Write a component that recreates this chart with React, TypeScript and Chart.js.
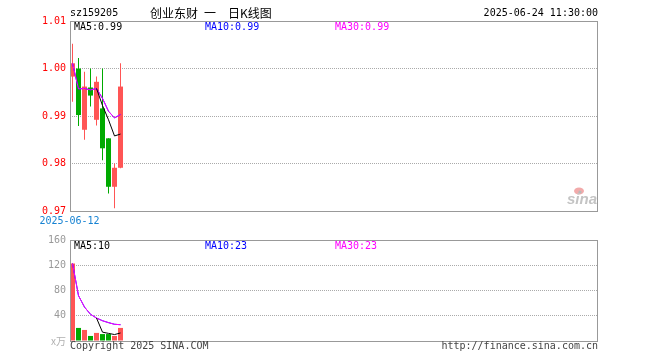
import React, { useEffect, useRef } from 'react';
import { Chart, registerables } from 'chart.js';

Chart.register(...registerables);

// ---------- data ----------
const SYMBOL = 'sz159205';
const TITLE = '创业东财 一 日K线图';
const TIMESTAMP = '2025-06-24 11:30:00';
const DATES = ['2025-06-12'];

const OPEN = [0.9983, 1.0000, 0.9871, 0.9960, 0.9892, 0.9916, 0.9853, 0.9751, 0.9791];
const HIGH = [1.0052, 1.0022, 0.9993, 1.0000, 0.9983, 1.0000, 0.9853, 0.9800, 1.0011];
const LOW = [0.9930, 0.9879, 0.9850, 0.9920, 0.9880, 0.9807, 0.9737, 0.9706, 0.9790];
const CLOSE = [1.0011, 0.9902, 0.9962, 0.9943, 0.9972, 0.9832, 0.9751, 0.9791, 0.9962];

const MA5_PRICE = [null, null, null, null, 0.9958, 0.9922, 0.9892, 0.9858, 0.9862];
const MA10_PRICE = [1.0011, 0.9957, 0.9958, 0.9955, 0.9958, 0.9937, 0.9910, 0.9896, 0.9903];
const MA30_PRICE = [1.0011, 0.9957, 0.9958, 0.9955, 0.9958, 0.9937, 0.9910, 0.9896, 0.9903];

const VOLUME = [122.8, 20.7, 17.5, 8.0, 12.8, 11.0, 11.0, 8.0, 20.7];
const MA5_VOL = [null, null, null, null, 36.4, 14.0, 12.1, 10.2, 12.7];
const MA10_VOL = [122.8, 71.8, 53.7, 42.3, 36.4, 32.1, 29.1, 26.5, 25.8];
const MA30_VOL = [122.8, 71.8, 53.7, 42.3, 36.4, 32.1, 29.1, 26.5, 25.8];

const PRICE_TICKS = [0.97, 0.98, 0.99, 1.0, 1.01];
const VOL_TICKS = [0, 40, 80, 120, 160];
const PRICE_LEGEND = ['MA5:0.99', 'MA10:0.99', 'MA30:0.99'];
const VOL_LEGEND = ['MA5:10', 'MA10:23', 'MA30:23'];
const VOL_UNIT = 'x万';
const FOOTER_LEFT = 'Copyright 2025 SINA.COM';
const FOOTER_RIGHT = 'http://finance.sina.com.cn';
const WATERMARK = 'sina';

// ---------- styles ----------
const UP = '#ff5555';
const DOWN = '#00aa00';
const MA_COLORS = ['#000000', '#0000ff', '#ff00ff'];
const BORDER = '#999999';
const GRID = '#aaaaaa';
const MONO = "10px 'DejaVu Sans Mono'";
const X_MIN = -2.5 / 6;
const X_MAX = X_MIN + 88;

const idx = CLOSE.map((_, i) => i);
const candleColor = idx.map((i) => (CLOSE[i] >= OPEN[i] ? UP : DOWN));

const xScale = { type: 'linear', display: false, min: X_MIN, max: X_MAX, offset: false };

function yScale(ticks: number[], color: string, fmt: (v: number) => string) {
  const lo = ticks[0];
  const hi = ticks[ticks.length - 1];
  return {
    position: 'left',
    min: lo,
    max: hi,
    beginAtZero: false,
    afterFit: (s: any) => {
      s.width = 70;
    },
    afterBuildTicks: (s: any) => {
      s.ticks = ticks.map((v) => ({ value: v }));
    },
    ticks: {
      color,
      font: { family: 'DejaVu Sans Mono', size: 10 },
      padding: 4,
      callback: (v: any) => fmt(Number(v)),
    },
    grid: {
      drawTicks: false,
      lineWidth: 1,
      color: (c: any) =>
        c.tick && (Math.abs(c.tick.value - lo) < 1e-9 || Math.abs(c.tick.value - hi) < 1e-9)
          ? 'rgba(0,0,0,0)'
          : GRID,
    },
    border: { display: false, dash: [1, 1] },
  };
}

function lineDs(data: (number | null)[], color: string) {
  return {
    type: 'line',
    data: idx.map((i) => ({ x: i, y: data[i] })),
    borderColor: color,
    borderWidth: 1,
    pointRadius: 0,
    tension: 0,
    fill: false,
    spanGaps: false,
  };
}

const mainDecor = {
  id: 'mainDecor',
  afterDraw(chart: any) {
    const { ctx, chartArea: a, scales } = chart;
    ctx.save();
    ctx.setLineDash([]);
    ctx.strokeStyle = BORDER;
    ctx.lineWidth = 1;
    ctx.strokeRect(a.left + 0.5, a.top + 0.5, a.right - a.left - 1, a.bottom - a.top);

    ctx.fillStyle = '#000';
    ctx.font = MONO;
    ctx.textBaseline = 'alphabetic';
    ctx.textAlign = 'left';
    ctx.fillText(SYMBOL, 70, 16);
    ctx.textAlign = 'right';
    ctx.fillText(TIMESTAMP, 598, 16);

    ctx.font = "12px 'Noto Sans CJK SC'";
    ctx.textAlign = 'left';
    ctx.textBaseline = 'middle';
    const tx = [150, 204, 228];
    TITLE.split(' ').forEach((p, i) => ctx.fillText(p, tx[i], 13.5));

    ctx.font = MONO;
    const lx = [74, 205, 335];
    PRICE_LEGEND.forEach((t, i) => {
      ctx.fillStyle = MA_COLORS[i];
      ctx.fillText(t, lx[i], 27);
    });

    ctx.fillStyle = '#1682d2';
    ctx.textAlign = 'center';
    ctx.fillText(DATES[0], scales.x.getPixelForValue(0) - 3, 221);

    // watermark
    ctx.fillStyle = '#f2aaaa';
    ctx.beginPath();
    ctx.ellipse(579, 191, 5, 3.5, 0, 0, Math.PI * 2);
    ctx.fill();
    ctx.fillStyle = '#b8b8b8';
    ctx.beginPath();
    ctx.arc(580, 192, 1.6, 0, Math.PI * 2);
    ctx.fill();
    ctx.font = "italic bold 15px 'Liberation Sans'";
    ctx.fillStyle = '#c4c4c4';
    ctx.textAlign = 'right';
    ctx.textBaseline = 'alphabetic';
    ctx.fillText(WATERMARK, 597, 204);
    ctx.restore();
  },
};

const volDecor = {
  id: 'volDecor',
  afterDraw(chart: any) {
    const { ctx, chartArea: a } = chart;
    ctx.save();
    ctx.setLineDash([]);
    ctx.strokeStyle = BORDER;
    ctx.lineWidth = 1;
    ctx.strokeRect(a.left + 0.5, a.top + 0.5, a.right - a.left - 1, a.bottom - a.top);

    ctx.font = MONO;
    ctx.textBaseline = 'middle';
    ctx.textAlign = 'left';
    const lx = [74, 205, 335];
    VOL_LEGEND.forEach((t, i) => {
      ctx.fillStyle = MA_COLORS[i];
      ctx.fillText(t, lx[i], 246);
    });

    ctx.fillStyle = '#444';
    ctx.fillText(FOOTER_LEFT, 70, 346);
    ctx.textAlign = 'right';
    ctx.fillText(FOOTER_RIGHT, 598, 346);

    ctx.font = "10px 'Noto Sans CJK SC'";
    ctx.fillStyle = '#b0b0b0';
    ctx.fillText(VOL_UNIT, 66, 341);
    ctx.restore();
  },
};

export default function App() {
  const mainRef = useRef<HTMLCanvasElement>(null);
  const volRef = useRef<HTMLCanvasElement>(null);

  useEffect(() => {
    const common = {
      animation: false,
      responsive: false,
      events: [],
      plugins: { legend: { display: false }, tooltip: { enabled: false } },
    };

    const main = new Chart(mainRef.current as HTMLCanvasElement, {
      type: 'bar',
      data: {
        datasets: [
          lineDs(MA5_PRICE, MA_COLORS[0]),
          lineDs(MA30_PRICE, MA_COLORS[2]),
          lineDs(MA10_PRICE, MA_COLORS[1]),
          {
            type: 'bar',
            data: idx.map((i) => ({ x: i, y: [OPEN[i], CLOSE[i]] })),
            backgroundColor: candleColor,
            barThickness: 5,
            grouped: false,
            borderWidth: 0,
            inflateAmount: 0,
          },
          {
            type: 'bar',
            data: idx.map((i) => ({ x: i, y: [LOW[i], HIGH[i]] })),
            backgroundColor: candleColor,
            barThickness: 1,
            grouped: false,
            borderWidth: 0,
            inflateAmount: 0,
          },
        ],
      } as any,
      options: {
        ...common,
        layout: { padding: { left: 0, right: 62, top: 21, bottom: 149 } },
        scales: {
          x: xScale,
          y: yScale(PRICE_TICKS, '#ff0000', (v) => v.toFixed(2)),
        },
      } as any,
      plugins: [mainDecor],
    });

    const vol = new Chart(volRef.current as HTMLCanvasElement, {
      type: 'bar',
      data: {
        datasets: [
          lineDs(MA5_VOL, MA_COLORS[0]),
          lineDs(MA30_VOL, MA_COLORS[2]),
          lineDs(MA10_VOL, MA_COLORS[1]),
          {
            type: 'bar',
            data: idx.map((i) => ({ x: i, y: VOLUME[i] })),
            backgroundColor: candleColor,
            barThickness: 5,
            grouped: false,
            borderWidth: 0,
            inflateAmount: 0,
          },
        ],
      } as any,
      options: {
        ...common,
        layout: { padding: { left: 0, right: 62, top: 240, bottom: 19 } },
        scales: {
          x: xScale,
          y: yScale(VOL_TICKS, '#999999', (v) => (v === 0 ? '' : String(v))),
        },
      } as any,
      plugins: [volDecor],
    });

    return () => {
      main.destroy();
      vol.destroy();
    };
  }, []);

  return (
    <div style={{ position: 'fixed', left: 0, top: 0, width: 660, height: 360, background: '#fff' }}>
      <canvas ref={mainRef} width={660} height={360} style={{ position: 'absolute', left: 0, top: 0 }} />
      <canvas ref={volRef} width={660} height={360} style={{ position: 'absolute', left: 0, top: 0 }} />
    </div>
  );
}
